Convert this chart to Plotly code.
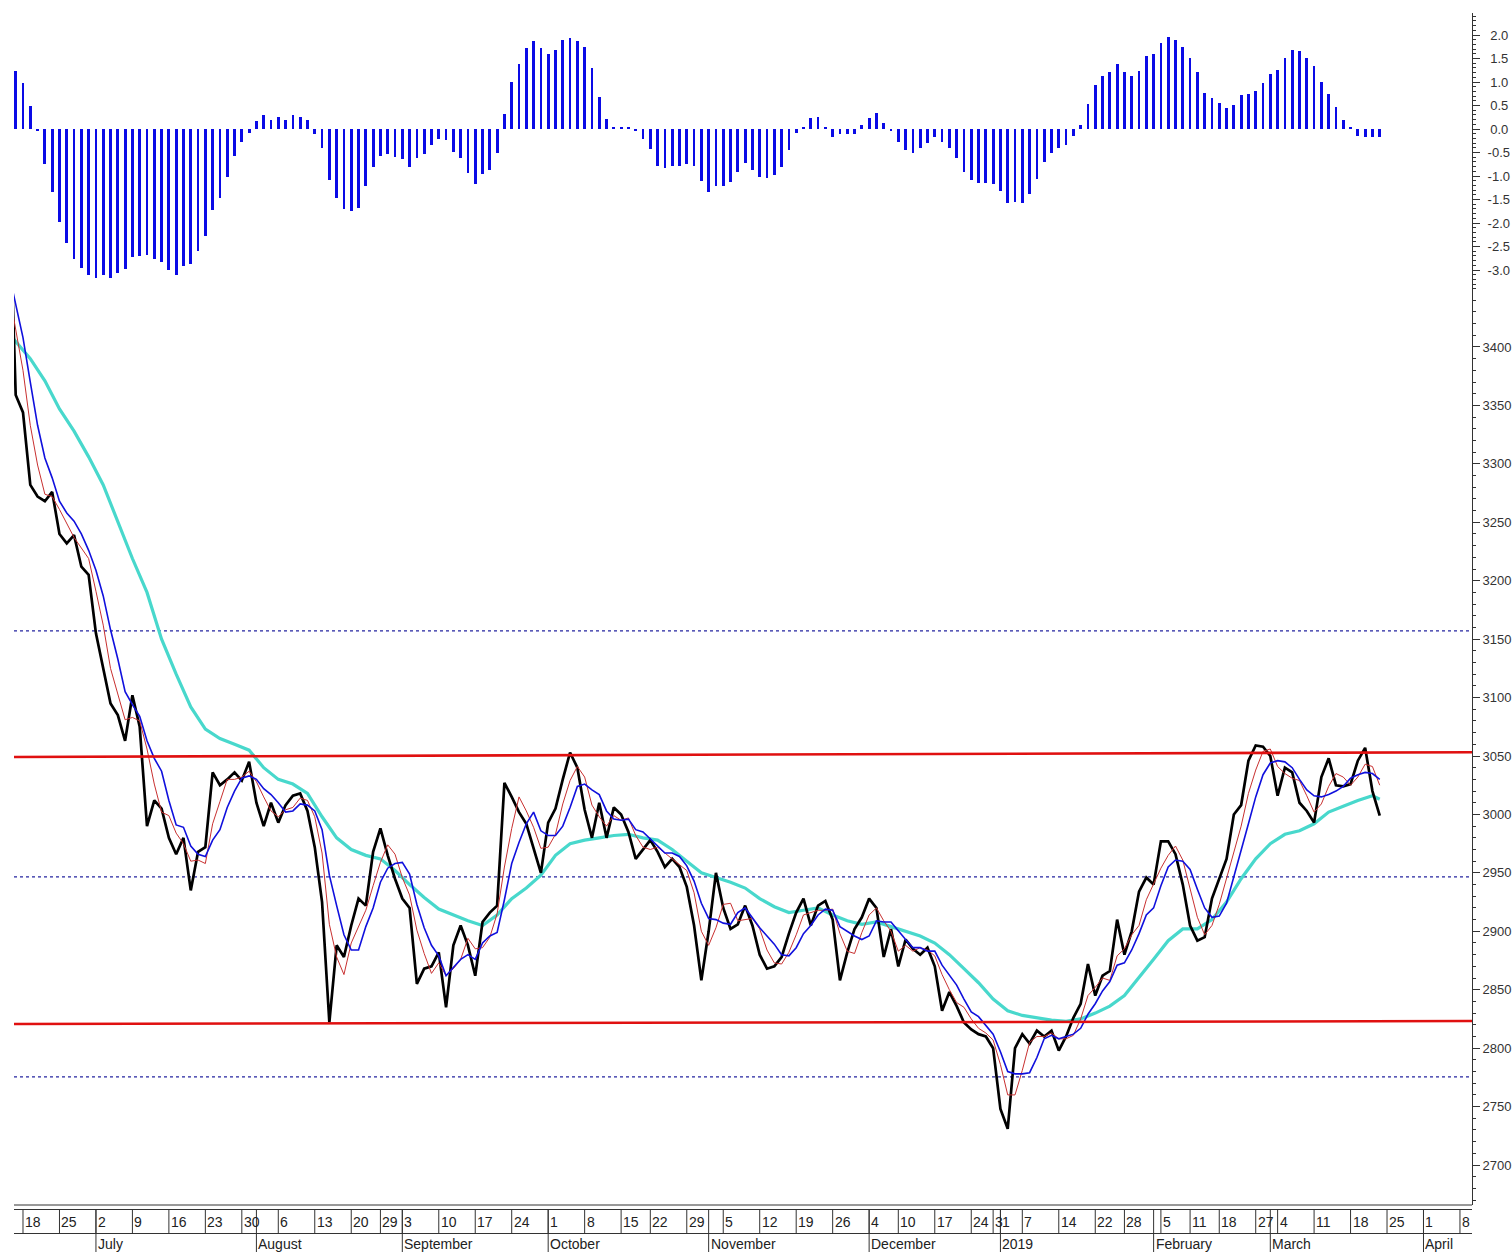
import plotly.graph_objects as go

# ---------------- data (day index k = trading day, 0 = first visible session) ----------------
days = list(range(-1, 188))
close = [3560, 3359, 3344, 3282, 3272, 3268, 3276, 3240, 3232, 3239, 3212,
         3205, 3155, 3125, 3095, 3085, 3063, 3102, 3075, 2990, 3012,
         3005, 2980, 2966, 2980, 2935, 2968, 2972, 3036, 3025, 3030,
         3036, 3029, 3045, 3010, 2990, 3010, 2993, 3008, 3016, 3018,
         3003, 2972, 2925, 2822, 2888, 2878, 2905, 2928, 2922, 2968,
         2988, 2965, 2945, 2928, 2920, 2855, 2868, 2870, 2882, 2835,
         2888, 2905, 2888, 2862, 2908, 2916, 2922, 3027, 3015, 3002,
         2992, 2972, 2950, 2993, 3005, 3030, 3053, 3040, 3004, 2980,
         3010, 2980, 3006, 3000, 2985, 2962, 2970, 2978, 2968, 2955,
         2962, 2955, 2938, 2905, 2858, 2900, 2950, 2920, 2902, 2906,
         2922, 2905, 2880, 2868, 2870, 2878, 2898, 2916, 2928, 2905,
         2922, 2926, 2910, 2858, 2882, 2902, 2912, 2928, 2920, 2878,
         2902, 2870, 2893, 2885, 2880, 2886, 2870, 2832, 2848, 2836,
         2822, 2816, 2812, 2810, 2800, 2748, 2731, 2800, 2812, 2804,
         2815, 2810, 2815, 2798, 2810, 2826, 2838, 2872, 2845, 2862,
         2866, 2910, 2880, 2900, 2934, 2946, 2940, 2977, 2977, 2966,
         2940, 2905, 2892, 2895, 2928, 2945, 2962, 3000, 3008, 3046,
         3059, 3058, 3050, 3016, 3040, 3036, 3010, 3003, 2993, 3032,
         3048, 3025, 3024, 3026, 3046, 3057, 3020, 2999]
fast_avg = [3450, 3414, 3380, 3333, 3299, 3274, 3272, 3261, 3249, 3237, 3228,
            3219, 3191, 3162, 3125, 3102, 3081, 3083, 3080, 3056, 3026,
            3002, 2999, 2984, 2975, 2960, 2961, 2958, 2992, 3011, 3030,
            3030, 3032, 3037, 3028, 3015, 3003, 2998, 3004, 3006, 3014,
            3012, 2998, 2967, 2906, 2878, 2863, 2890, 2904, 2918, 2939,
            2959, 2974, 2966, 2946, 2931, 2901, 2881, 2864, 2873, 2862,
            2868, 2876, 2894, 2885, 2886, 2895, 2915, 2955, 2988, 3015,
            3003, 2989, 2971, 2972, 2983, 3009, 3029, 3041, 3032, 3008,
            2998, 2990, 2999, 2995, 2997, 2982, 2972, 2970, 2972, 2967,
            2962, 2957, 2952, 2933, 2900, 2888, 2903, 2923, 2924, 2909,
            2910, 2911, 2902, 2884, 2873, 2872, 2882, 2897, 2914, 2916,
            2918, 2918, 2919, 2898, 2883, 2881, 2899, 2914, 2920, 2909,
            2900, 2883, 2888, 2883, 2886, 2884, 2879, 2863, 2850, 2839,
            2835, 2825, 2817, 2813, 2807, 2786, 2760, 2760, 2781, 2805,
            2810, 2810, 2813, 2808, 2808, 2811, 2825, 2845, 2852, 2860,
            2858, 2879, 2885, 2897, 2905, 2927, 2940, 2954, 2965, 2973,
            2961, 2937, 2912, 2897, 2905, 2923, 2945, 2969, 2990, 3018,
            3038, 3054, 3056, 3041, 3035, 3031, 3029, 3016, 3002, 3009,
            3024, 3035, 3032, 3025, 3032, 3043, 3041, 3025]
mid_avg = [3465, 3437, 3408, 3370, 3333, 3305, 3288, 3268, 3258, 3251, 3240,
           3226, 3209, 3187, 3158, 3133, 3105, 3094, 3084, 3063, 3048,
           3037, 3012, 2991, 2989, 2973, 2966, 2964, 2978, 2987, 3006,
           3020, 3031, 3033, 3030, 3022, 3017, 3010, 3002, 3003, 3009,
           3008, 3003, 2987, 2948, 2922, 2897, 2884, 2884, 2904, 2920,
           2942, 2954, 2958, 2959, 2949, 2923, 2903, 2888, 2879, 2862,
           2869, 2876, 2880, 2876, 2890, 2896, 2899, 2927, 2958, 2976,
           2992, 3002, 2986, 2982, 2982, 2990, 3006, 3024, 3026, 3021,
           3017, 3003, 2996, 2995, 2996, 2987, 2985, 2979, 2973, 2967,
           2967, 2964, 2956, 2943, 2924, 2911, 2910, 2907, 2906, 2916,
           2920, 2911, 2903, 2896, 2889, 2880, 2879, 2886, 2898, 2905,
           2914, 2919, 2918, 2904, 2900, 2896, 2893, 2896, 2909, 2908,
           2908, 2900, 2893, 2886, 2886, 2883, 2883, 2871, 2863, 2854,
           2842, 2831, 2827, 2819, 2812, 2797, 2780, 2778, 2778, 2779,
           2792, 2808, 2811, 2808, 2810, 2812, 2817, 2829, 2838, 2849,
           2857, 2871, 2873, 2884, 2898, 2914, 2920, 2939, 2955, 2961,
           2960, 2953, 2936, 2920, 2912, 2913, 2924, 2946, 2969, 2992,
           3015, 3034, 3044, 3046, 3045, 3040, 3030, 3021, 3016, 3015,
           3017, 3020, 3024, 3031, 3034, 3036, 3035, 3030]
slow_days = [-1, 0, 2, 4, 6, 8, 10, 12, 14, 16, 18, 20, 22, 24, 26, 28, 30, 32, 34, 36,
             38, 40, 42, 44, 46, 48, 50, 52, 54, 56, 58, 60, 62, 64, 66, 68, 70, 72,
             74, 76, 78, 80, 82, 84, 86, 88, 90, 92, 94, 96, 98, 100, 102, 104, 106,
             108, 110, 112, 114, 116, 118, 120, 122, 124, 126, 128, 130, 132, 134,
             136, 138, 140, 142, 144, 146, 148, 150, 152, 154, 156, 158, 160, 162,
             164, 166, 168, 170, 172, 174, 176, 178, 180, 182, 184, 186, 187]
slow_avg = [3412, 3405, 3390, 3371, 3347, 3328, 3306, 3282, 3250, 3219, 3190, 3150,
            3120, 3092, 3073, 3065, 3060, 3055, 3040, 3030, 3026, 3018, 2998, 2980,
            2970, 2965, 2962, 2952, 2940, 2929, 2919, 2914, 2909, 2905, 2914, 2928,
            2937, 2948, 2965, 2975, 2978, 2980, 2982, 2983, 2980, 2978, 2970, 2960,
            2950, 2946, 2942, 2937, 2928, 2921, 2916, 2918, 2920, 2914, 2909, 2906,
            2908, 2904, 2900, 2896, 2890, 2880, 2868, 2856, 2842, 2832, 2828, 2826,
            2824, 2823, 2825, 2830, 2836, 2845, 2860, 2876, 2892, 2902, 2902, 2910,
            2925, 2945, 2962, 2975, 2983, 2986, 2992, 3002, 3007, 3012, 3016, 3013]
osc_days = list(range(0, 188))
osc = [1.23, 0.97, 0.50, -0.05, -0.75, -1.33, -1.97, -2.43, -2.77, -2.95,
       -3.11, -3.16, -3.11, -3.16, -3.07, -2.98, -2.72, -2.70, -2.68, -2.76,
       -2.82, -3.00, -3.11, -2.91, -2.88, -2.60, -2.28, -1.72, -1.46, -1.02,
       -0.57, -0.27, -0.08, 0.17, 0.30, 0.19, 0.26, 0.19, 0.30, 0.25,
       0.19, -0.11, -0.41, -1.09, -1.46, -1.70, -1.74, -1.67, -1.21, -0.81,
       -0.57, -0.54, -0.60, -0.64, -0.81, -0.62, -0.54, -0.33, -0.21, -0.24,
       -0.48, -0.61, -0.94, -1.18, -0.96, -0.87, -0.52, 0.32, 0.99, 1.39,
       1.72, 1.87, 1.72, 1.60, 1.69, 1.89, 1.93, 1.87, 1.74, 1.30,
       0.69, 0.21, 0.05, 0.05, 0.05, -0.05, -0.21, -0.43, -0.79, -0.84,
       -0.78, -0.78, -0.75, -0.78, -1.11, -1.33, -1.22, -1.22, -1.13, -0.91,
       -0.73, -0.87, -1.02, -1.04, -0.98, -0.81, -0.45, -0.09, 0.05, 0.23,
       0.26, 0.05, -0.18, -0.11, -0.11, -0.11, 0.08, 0.23, 0.33, 0.12,
       -0.05, -0.27, -0.45, -0.50, -0.40, -0.30, -0.18, -0.27, -0.40, -0.62,
       -0.92, -1.09, -1.15, -1.15, -1.17, -1.31, -1.58, -1.55, -1.58, -1.39,
       -1.06, -0.70, -0.50, -0.40, -0.33, -0.15, 0.09, 0.54, 0.93, 1.13,
       1.21, 1.39, 1.21, 1.13, 1.23, 1.55, 1.60, 1.84, 1.96, 1.89,
       1.75, 1.52, 1.21, 0.77, 0.65, 0.55, 0.44, 0.51, 0.72, 0.75,
       0.81, 0.98, 1.18, 1.26, 1.52, 1.69, 1.66, 1.52, 1.34, 1.01,
       0.74, 0.46, 0.19, 0.05, -0.15, -0.16, -0.16, -0.18]

# trend lines (start level, end level) and dotted reference levels
resist_levels = [3049.2, 3053.2]
support_levels = [2820.7, 2823.2]
dotted_levels = [3157, 2946.5, 2775.5]

# date axis
tick_days = [1, 6, 11, 16, 21, 26, 31, 36, 41, 46, 50, 53, 58, 63, 68, 73, 78, 83, 87, 92,
             97, 102, 107, 112, 117, 121, 126, 131, 134, 135, 138, 143, 148, 152, 157,
             161, 165, 170, 173, 178, 183, 188, 193, 198]
tick_text = ["18", "25", "2", "9", "16", "23", "30", "6", "13", "20", "29", "3", "10", "17",
             "24", "1", "8", "15", "22", "29", "5", "12", "19", "26", "4", "10", "17", "24",
             "3", "1", "7", "14", "22", "28", "5", "11", "18", "27", "4", "11", "18", "25",
             "1", "8"]
month_days = [11, 33, 53, 73, 95, 117, 135, 156, 172, 193]
month_text = ["July", "August", "September", "October", "November", "December", "2019",
              "February", "March", "April"]

price_ticks = [2700, 2750, 2800, 2850, 2900, 2950, 3000, 3050, 3100, 3150, 3200, 3250,
               3300, 3350, 3400]
osc_ticks = [2.0, 1.5, 1.0, 0.5, 0.0, -0.5, -1.0, -1.5, -2.0, -2.5, -3.0]

# ---------------- layout geometry ----------------
W, H = 1512, 1252
L, R, T, B = 14, 1472, 13, 1205
SPLIT = 293
X_RANGE = [-0.233, 199.65]
PRICE_RANGE = [2665.8, 3446.2]
OSC_RANGE = [-3.489, 2.468]
FONT = "Liberation Sans Narrow, Arial Narrow, Liberation Sans, Arial, sans-serif"


def py(px):
    return (B - px) / (B - T)


split_paper = py(SPLIT)

fig = go.Figure()

fig.add_trace(go.Bar(x=osc_days, y=osc, width=0.38, marker=dict(color="#0a0ae6", line_width=0),
                     xaxis="x", yaxis="y2", hoverinfo="skip"))

fig.add_trace(go.Scatter(x=slow_days, y=slow_avg, mode="lines",
                         line=dict(color="#48d8cc", width=3.2), yaxis="y"))
fig.add_trace(go.Scatter(x=days, y=close, mode="lines",
                         line=dict(color="#000000", width=2.7), yaxis="y"))
fig.add_trace(go.Scatter(x=days, y=fast_avg, mode="lines",
                         line=dict(color="#c83030", width=1), yaxis="y"))
fig.add_trace(go.Scatter(x=days, y=mid_avg, mode="lines",
                         line=dict(color="#1010dd", width=1.6), yaxis="y"))

shapes = []
for lvl in dotted_levels:
    shapes.append(dict(type="line", xref="x domain", yref="y", x0=0, x1=1, y0=lvl, y1=lvl,
                       line=dict(color="#2424a0", width=1.2, dash="dot"), layer="below"))
for lv in (resist_levels, support_levels):
    shapes.append(dict(type="line", xref="x", yref="y", x0=X_RANGE[0], x1=X_RANGE[1],
                       y0=lv[0], y1=lv[1], line=dict(color="#e01010", width=2.6)))

axc = "#333333"
# date axis frame
for ypx in (B, B + 4.5, B + 28.5):
    shapes.append(dict(type="line", xref="paper", yref="paper", x0=0, x1=1,
                       y0=py(ypx), y1=py(ypx), line=dict(color=axc, width=1)))
for d in tick_days:
    shapes.append(dict(type="line", xref="x", yref="paper", x0=d, x1=d,
                       y0=py(B + 4.5), y1=py(B + 28.5), line=dict(color=axc, width=1)))
for d in month_days:
    shapes.append(dict(type="line", xref="x", yref="paper", x0=d, x1=d,
                       y0=py(B + 4.5), y1=py(H), line=dict(color=axc, width=1)))

annotations = []
for d, t in zip(tick_days, tick_text):
    annotations.append(dict(x=d, y=py(B + 17), xref="x", yref="paper", text=t,
                            showarrow=False, xanchor="left", yanchor="middle", xshift=0,
                            font=dict(family=FONT, size=14, color="#222222")))
for d, t in zip(month_days, month_text):
    annotations.append(dict(x=d, y=py(B + 39.5), xref="x", yref="paper", text=t,
                            showarrow=False, xanchor="left", yanchor="middle", xshift=0,
                            font=dict(family=FONT, size=14, color="#222222")))

yax_common = dict(side="right", showline=True, linecolor=axc, linewidth=1, ticks="outside",
                  ticklen=7, tickcolor=axc, showgrid=False, zeroline=False, fixedrange=True,
                  automargin=False,
                  tickfont=dict(family=FONT, size=13, color="#333333"))

osc_text = [("%.1f" % v) if v < 0 else ("\u2009%.1f" % v) for v in osc_ticks]

fig.update_layout(
    width=W, height=H,
    margin=dict(l=L, r=W - R, t=T, b=H - B, autoexpand=False),
    paper_bgcolor="white", plot_bgcolor="white",
    showlegend=False, bargap=0,
    xaxis=dict(range=X_RANGE, visible=False, anchor="y", fixedrange=True, automargin=False),
    yaxis=dict(domain=[0, split_paper], range=PRICE_RANGE, anchor="x",
               tickvals=price_ticks, ticktext=[str(v) for v in price_ticks],
               minor=dict(tick0=0, dtick=10, ticks="outside", ticklen=3, tickcolor=axc),
               **yax_common),
    yaxis2=dict(domain=[split_paper, 1], range=OSC_RANGE, anchor="x",
                tickvals=osc_ticks, ticktext=osc_text, ticklabelstandoff=5,
                minor=dict(tick0=0, dtick=0.1, ticks="outside", ticklen=3, tickcolor=axc),
                **yax_common),
    shapes=shapes, annotations=annotations,
)

fig.write_html("out.html")
